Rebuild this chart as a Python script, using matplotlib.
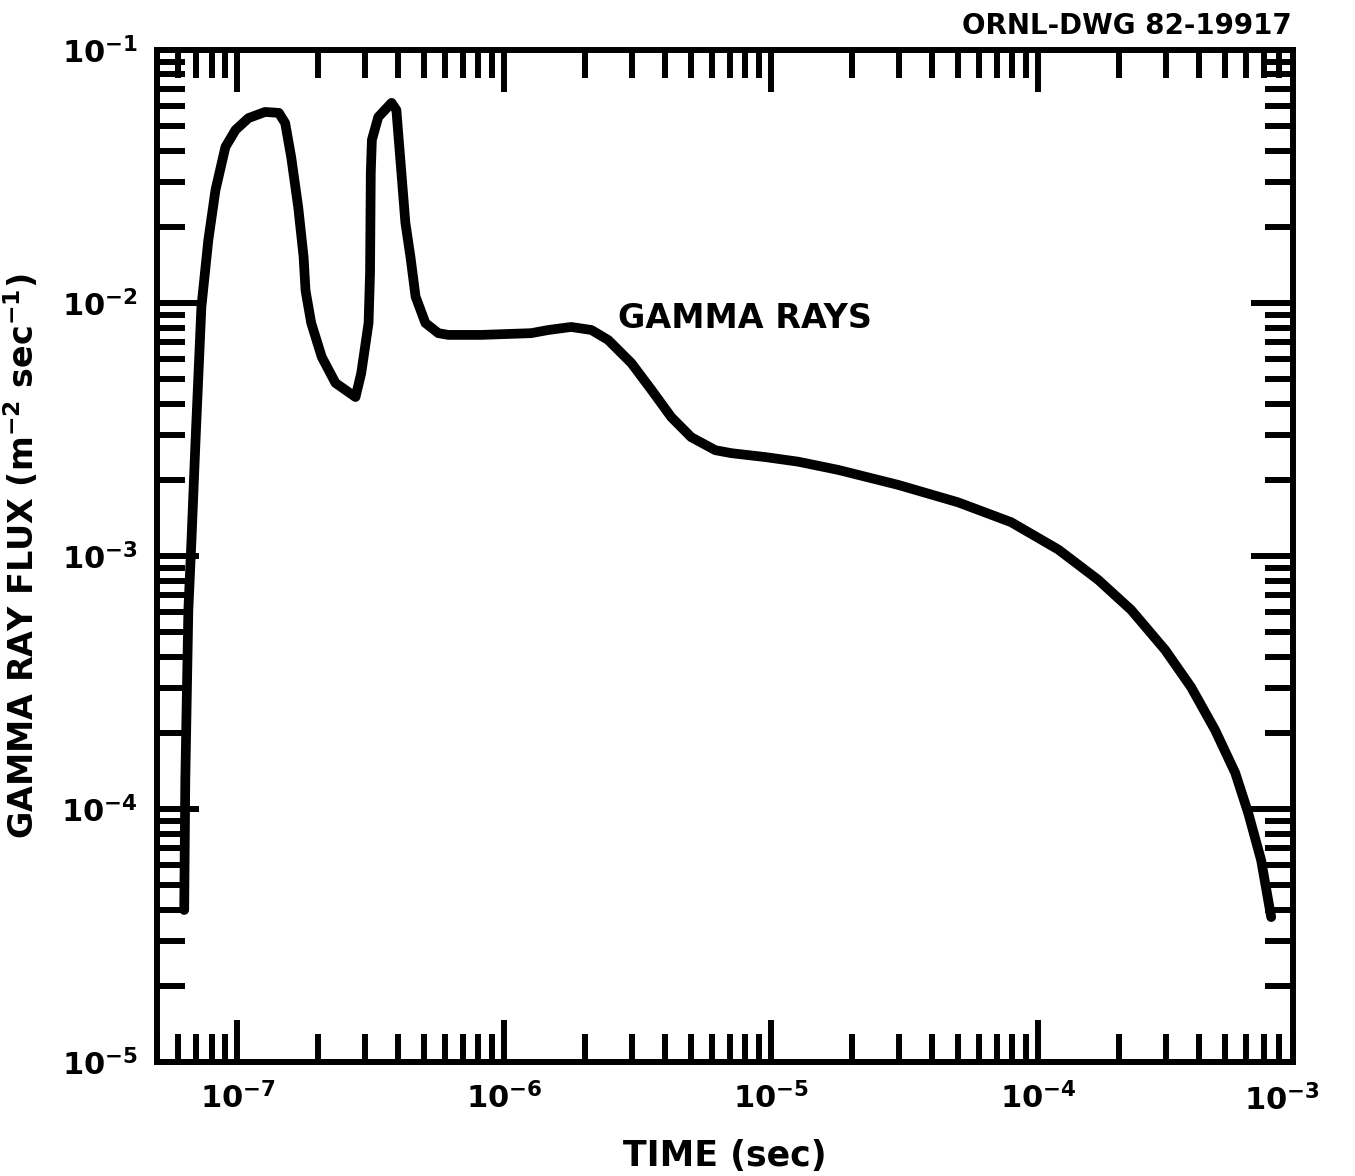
import matplotlib.pyplot as plt
from matplotlib.ticker import LogLocator, NullFormatter, FixedLocator

plt.rcParams['font.family'] = 'DejaVu Sans'
plt.rcParams['font.weight'] = 'bold'
plt.rcParams['axes.labelweight'] = 'bold'
plt.rcParams['mathtext.default'] = 'bf'

# time (sec) and gamma ray flux
time = [6.32e-8, 6.38e-8, 6.55e-8, 6.73e-8, 6.97e-8, 7.33e-8, 7.78e-8, 8.28e-8,
        9.02e-8, 9.84e-8, 1.10e-7, 1.27e-7, 1.43e-7, 1.51e-7, 1.59e-7, 1.69e-7,
        1.77e-7, 1.80e-7, 1.89e-7, 2.07e-7, 2.33e-7, 2.77e-7, 2.91e-7, 3.10e-7,
        3.14e-7, 3.16e-7, 3.19e-7, 3.37e-7, 3.78e-7, 3.94e-7, 4.07e-7, 4.26e-7,
        4.45e-7, 4.65e-7, 5.06e-7, 5.66e-7, 6.17e-7, 8.20e-7, 1.26e-6, 1.46e-6,
        1.78e-6, 2.12e-6, 2.45e-6, 2.99e-6, 3.56e-6, 4.22e-6, 5.01e-6, 6.17e-6,
        7.08e-6, 9.51e-6, 1.26e-5, 1.78e-5, 2.99e-5, 5.01e-5, 7.92e-5, 1.19e-4,
        1.68e-4, 2.23e-4, 2.99e-4, 3.74e-4, 4.60e-4, 5.47e-4, 6.12e-4, 6.84e-4,
        7.46e-4]
flux = [3.99e-5, 1.30e-4, 6.12e-4, 1.16e-3, 2.87e-3, 9.64e-3, 1.77e-2, 2.80e-2,
        4.14e-2, 4.83e-2, 5.38e-2, 5.69e-2, 5.64e-2, 5.14e-2, 3.78e-2, 2.39e-2,
        1.52e-2, 1.12e-2, 8.34e-3, 6.12e-3, 4.83e-3, 4.25e-3, 5.28e-3, 8.34e-3,
        1.32e-2, 3.27e-2, 4.41e-2, 5.43e-2, 6.18e-2, 5.79e-2, 3.78e-2, 2.07e-2,
        1.52e-2, 1.06e-2, 8.34e-3, 7.60e-3, 7.48e-3, 7.48e-3, 7.60e-3, 7.82e-3,
        8.04e-3, 7.82e-3, 7.14e-3, 5.79e-3, 4.53e-3, 3.54e-3, 2.95e-3, 2.62e-3,
        2.55e-3, 2.46e-3, 2.36e-3, 2.19e-3, 1.91e-3, 1.63e-3, 1.36e-3, 1.06e-3,
        8.04e-4, 6.12e-4, 4.25e-4, 3.03e-4, 2.05e-4, 1.39e-4, 9.64e-5, 6.28e-5,
        3.74e-5]

x_ticks = [1e-7, 1e-6, 1e-5, 1e-4]
x_labels = ['$10^{-7}$', '$10^{-6}$', '$10^{-5}$', '$10^{-4}$']
y_ticks = [1e-5, 1e-4, 1e-3, 1e-2, 1e-1]
y_labels = ['$10^{-5}$', '$10^{-4}$', '$10^{-3}$', '$10^{-2}$', '$10^{-1}$']

fig = plt.figure(figsize=(13.55, 11.76), dpi=100)
ax = fig.add_axes([0.1159, 0.0969, 0.8383, 0.8606])

ax.plot(time, flux, color='black', linewidth=7, solid_joinstyle='round',
        solid_capstyle='round')

ax.set_xscale('log')
ax.set_yscale('log')
ax.set_xlim(5e-8, 9e-4)
ax.set_ylim(1e-5, 1e-1)

ax.xaxis.set_major_locator(FixedLocator(x_ticks))
ax.set_xticklabels(x_labels)
ax.yaxis.set_major_locator(FixedLocator(y_ticks))
ax.set_yticklabels(y_labels)
ax.xaxis.set_minor_locator(LogLocator(base=10, subs=range(2, 10), numticks=20))
ax.yaxis.set_minor_locator(LogLocator(base=10, subs=range(2, 10), numticks=20))
ax.xaxis.set_minor_formatter(NullFormatter())
ax.yaxis.set_minor_formatter(NullFormatter())

ax.tick_params(which='both', direction='in', top=True, right=True, width=4.3,
               labelsize=22, color='black')
ax.tick_params(which='major', length=30, pad=14)
ax.tick_params(which='minor', length=20)
for s in ax.spines.values():
    s.set_linewidth(4.3)

# 10^-3 label sits at the right edge of the frame
ax.text(0.99, -0.022, '$10^{-3}$', transform=ax.transAxes, ha='center', va='top',
        fontsize=22)

ax.text(2.67e-6, 8.7e-3, 'GAMMA RAYS', fontsize=24, ha='left', va='center')

ax.set_xlabel('TIME (sec)', fontsize=25, labelpad=18)
ax.set_ylabel('GAMMA RAY FLUX (m$^{-2}$ sec$^{-1}$)', fontsize=24)
ax.yaxis.set_label_coords(-0.102, 0.5)
fig.text(0.953, 0.978, 'ORNL-DWG 82-19917', ha='right', va='center', fontsize=20)

plt.savefig('out.png', dpi=100)
